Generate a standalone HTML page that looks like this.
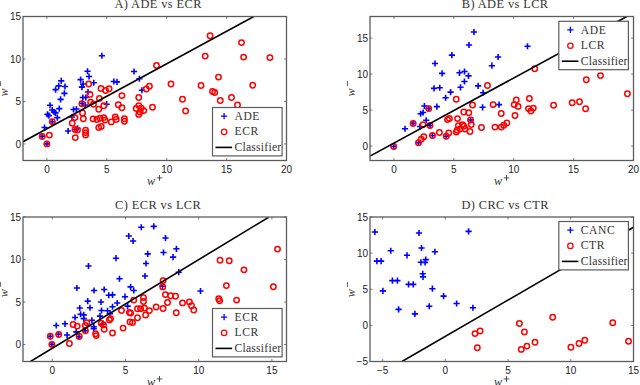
<!DOCTYPE html><html><head><meta charset="utf-8"><style>html,body{margin:0;padding:0;background:#fff;width:640px;height:385px;overflow:hidden}svg{display:block}</style></head><body>
<svg width="640" height="385" viewBox="0 0 640 385">
<rect width="640" height="385" fill="#fff"/>
<g>
<clipPath id="clA"><rect x="23" y="16.5" width="263.5" height="144.0"/></clipPath>
<g clip-path="url(#clA)">
<path d="M98.80 55.75H105.00M101.90 52.65V58.85" stroke="#0000ff" stroke-width="1.6" fill="none"/>
<path d="M84.40 71.25H90.60M87.50 68.15V74.35" stroke="#0000ff" stroke-width="1.6" fill="none"/>
<path d="M85.90 76.50H92.10M89.00 73.40V79.60" stroke="#0000ff" stroke-width="1.6" fill="none"/>
<path d="M77.50 79.60H83.70M80.60 76.50V82.70" stroke="#0000ff" stroke-width="1.6" fill="none"/>
<path d="M80.00 84.00H86.20M83.10 80.90V87.10" stroke="#0000ff" stroke-width="1.6" fill="none"/>
<path d="M78.80 87.10H85.00M81.90 84.00V90.20" stroke="#0000ff" stroke-width="1.6" fill="none"/>
<path d="M90.65 82.75H96.85M93.75 79.65V85.85" stroke="#0000ff" stroke-width="1.6" fill="none"/>
<path d="M58.15 80.90H64.35M61.25 77.80V84.00" stroke="#0000ff" stroke-width="1.6" fill="none"/>
<path d="M55.65 85.90H61.85M58.75 82.80V89.00" stroke="#0000ff" stroke-width="1.6" fill="none"/>
<path d="M61.90 86.50H68.10M65.00 83.40V89.60" stroke="#0000ff" stroke-width="1.6" fill="none"/>
<path d="M52.50 89.60H58.70M55.60 86.50V92.70" stroke="#0000ff" stroke-width="1.6" fill="none"/>
<path d="M61.30 93.40H67.50M64.40 90.30V96.50" stroke="#0000ff" stroke-width="1.6" fill="none"/>
<path d="M57.50 99.40H63.70M60.60 96.30V102.50" stroke="#0000ff" stroke-width="1.6" fill="none"/>
<path d="M46.90 105.25H53.10M50.00 102.15V108.35" stroke="#0000ff" stroke-width="1.6" fill="none"/>
<path d="M49.10 110.00H55.30M52.20 106.90V113.10" stroke="#0000ff" stroke-width="1.6" fill="none"/>
<path d="M50.90 112.00H57.10M54.00 108.90V115.10" stroke="#0000ff" stroke-width="1.6" fill="none"/>
<path d="M52.40 112.90H58.60M55.50 109.80V116.00" stroke="#0000ff" stroke-width="1.6" fill="none"/>
<path d="M56.20 108.60H62.40M59.30 105.50V111.70" stroke="#0000ff" stroke-width="1.6" fill="none"/>
<path d="M70.40 109.50H76.60M73.50 106.40V112.60" stroke="#0000ff" stroke-width="1.6" fill="none"/>
<path d="M73.30 109.00H79.50M76.40 105.90V112.10" stroke="#0000ff" stroke-width="1.6" fill="none"/>
<path d="M79.70 97.50H85.90M82.80 94.40V100.60" stroke="#0000ff" stroke-width="1.6" fill="none"/>
<path d="M82.70 97.50H88.90M85.80 94.40V100.60" stroke="#0000ff" stroke-width="1.6" fill="none"/>
<path d="M79.10 103.50H85.30M82.20 100.40V106.60" stroke="#0000ff" stroke-width="1.6" fill="none"/>
<path d="M110.70 81.50H116.90M113.80 78.40V84.60" stroke="#0000ff" stroke-width="1.6" fill="none"/>
<path d="M113.90 81.90H120.10M117.00 78.80V85.00" stroke="#0000ff" stroke-width="1.6" fill="none"/>
<path d="M103.50 104.20H109.70M106.60 101.10V107.30" stroke="#0000ff" stroke-width="1.6" fill="none"/>
<path d="M130.90 71.50H137.10M134.00 68.40V74.60" stroke="#0000ff" stroke-width="1.6" fill="none"/>
<path d="M136.30 78.75H142.50M139.40 75.65V81.85" stroke="#0000ff" stroke-width="1.6" fill="none"/>
<path d="M138.80 90.25H145.00M141.90 87.15V93.35" stroke="#0000ff" stroke-width="1.6" fill="none"/>
<path d="M44.40 114.30H50.60M47.50 111.20V117.40" stroke="#0000ff" stroke-width="1.6" fill="none"/>
<path d="M45.80 115.70H52.00M48.90 112.60V118.80" stroke="#0000ff" stroke-width="1.6" fill="none"/>
<path d="M54.20 117.60H60.40M57.30 114.50V120.70" stroke="#0000ff" stroke-width="1.6" fill="none"/>
<path d="M49.10 121.80H55.30M52.20 118.70V124.90" stroke="#0000ff" stroke-width="1.6" fill="none"/>
<path d="M41.40 127.50H47.60M44.50 124.40V130.60" stroke="#0000ff" stroke-width="1.6" fill="none"/>
<path d="M39.15 136.40H45.35M42.25 133.30V139.50" stroke="#0000ff" stroke-width="1.6" fill="none"/>
<path d="M43.80 143.90H50.00M46.90 140.80V147.00" stroke="#0000ff" stroke-width="1.6" fill="none"/>
<path d="M65.00 131.00H71.20M68.10 127.90V134.10" stroke="#0000ff" stroke-width="1.6" fill="none"/>
<path d="M68.90 117.00H75.10M72.00 113.90V120.10" stroke="#0000ff" stroke-width="1.6" fill="none"/>
<path d="M74.40 128.30H80.60M77.50 125.20V131.40" stroke="#0000ff" stroke-width="1.6" fill="none"/>
<path d="M84.90 92.00H91.10M88.00 88.90V95.10" stroke="#0000ff" stroke-width="1.6" fill="none"/>
<path d="M81.90 105.00H88.10M85.00 101.90V108.10" stroke="#0000ff" stroke-width="1.6" fill="none"/>
<path d="M72.90 129.50H79.10M76.00 126.40V132.60" stroke="#0000ff" stroke-width="1.6" fill="none"/>
<circle cx="210.10" cy="35.70" r="2.7" stroke="#ff0000" stroke-width="1.5" fill="none"/>
<circle cx="241.50" cy="42.60" r="2.7" stroke="#ff0000" stroke-width="1.5" fill="none"/>
<circle cx="205.20" cy="56.10" r="2.7" stroke="#ff0000" stroke-width="1.5" fill="none"/>
<circle cx="243.60" cy="57.10" r="2.7" stroke="#ff0000" stroke-width="1.5" fill="none"/>
<circle cx="269.90" cy="57.60" r="2.7" stroke="#ff0000" stroke-width="1.5" fill="none"/>
<circle cx="156.50" cy="65.50" r="2.7" stroke="#ff0000" stroke-width="1.5" fill="none"/>
<circle cx="171.00" cy="84.00" r="2.7" stroke="#ff0000" stroke-width="1.5" fill="none"/>
<circle cx="146.25" cy="89.00" r="2.7" stroke="#ff0000" stroke-width="1.5" fill="none"/>
<circle cx="149.40" cy="86.25" r="2.7" stroke="#ff0000" stroke-width="1.5" fill="none"/>
<circle cx="121.90" cy="95.60" r="2.7" stroke="#ff0000" stroke-width="1.5" fill="none"/>
<circle cx="138.75" cy="97.50" r="2.7" stroke="#ff0000" stroke-width="1.5" fill="none"/>
<circle cx="182.50" cy="99.25" r="2.7" stroke="#ff0000" stroke-width="1.5" fill="none"/>
<circle cx="121.90" cy="107.75" r="2.7" stroke="#ff0000" stroke-width="1.5" fill="none"/>
<circle cx="138.75" cy="105.60" r="2.7" stroke="#ff0000" stroke-width="1.5" fill="none"/>
<circle cx="136.25" cy="108.50" r="2.7" stroke="#ff0000" stroke-width="1.5" fill="none"/>
<circle cx="141.25" cy="108.10" r="2.7" stroke="#ff0000" stroke-width="1.5" fill="none"/>
<circle cx="143.75" cy="110.60" r="2.7" stroke="#ff0000" stroke-width="1.5" fill="none"/>
<circle cx="140.00" cy="111.90" r="2.7" stroke="#ff0000" stroke-width="1.5" fill="none"/>
<circle cx="138.75" cy="114.40" r="2.7" stroke="#ff0000" stroke-width="1.5" fill="none"/>
<circle cx="152.50" cy="107.25" r="2.7" stroke="#ff0000" stroke-width="1.5" fill="none"/>
<circle cx="185.60" cy="111.00" r="2.7" stroke="#ff0000" stroke-width="1.5" fill="none"/>
<circle cx="201.00" cy="85.50" r="2.7" stroke="#ff0000" stroke-width="1.5" fill="none"/>
<circle cx="218.50" cy="77.10" r="2.7" stroke="#ff0000" stroke-width="1.5" fill="none"/>
<circle cx="212.50" cy="91.50" r="2.7" stroke="#ff0000" stroke-width="1.5" fill="none"/>
<circle cx="214.75" cy="92.50" r="2.7" stroke="#ff0000" stroke-width="1.5" fill="none"/>
<circle cx="220.25" cy="100.50" r="2.7" stroke="#ff0000" stroke-width="1.5" fill="none"/>
<circle cx="231.50" cy="97.50" r="2.7" stroke="#ff0000" stroke-width="1.5" fill="none"/>
<circle cx="237.50" cy="105.00" r="2.7" stroke="#ff0000" stroke-width="1.5" fill="none"/>
<circle cx="252.75" cy="85.25" r="2.7" stroke="#ff0000" stroke-width="1.5" fill="none"/>
<circle cx="88.75" cy="84.00" r="2.7" stroke="#ff0000" stroke-width="1.5" fill="none"/>
<circle cx="90.00" cy="94.40" r="2.7" stroke="#ff0000" stroke-width="1.5" fill="none"/>
<circle cx="81.90" cy="103.75" r="2.7" stroke="#ff0000" stroke-width="1.5" fill="none"/>
<circle cx="90.60" cy="102.10" r="2.7" stroke="#ff0000" stroke-width="1.5" fill="none"/>
<circle cx="93.50" cy="104.30" r="2.7" stroke="#ff0000" stroke-width="1.5" fill="none"/>
<circle cx="101.00" cy="88.40" r="2.7" stroke="#ff0000" stroke-width="1.5" fill="none"/>
<circle cx="105.60" cy="90.50" r="2.7" stroke="#ff0000" stroke-width="1.5" fill="none"/>
<circle cx="109.10" cy="88.75" r="2.7" stroke="#ff0000" stroke-width="1.5" fill="none"/>
<circle cx="99.40" cy="98.40" r="2.7" stroke="#ff0000" stroke-width="1.5" fill="none"/>
<circle cx="103.75" cy="105.80" r="2.7" stroke="#ff0000" stroke-width="1.5" fill="none"/>
<circle cx="98.75" cy="109.25" r="2.7" stroke="#ff0000" stroke-width="1.5" fill="none"/>
<circle cx="118.30" cy="104.70" r="2.7" stroke="#ff0000" stroke-width="1.5" fill="none"/>
<circle cx="52.25" cy="121.75" r="2.7" stroke="#ff0000" stroke-width="1.5" fill="none"/>
<circle cx="42.25" cy="136.40" r="2.7" stroke="#ff0000" stroke-width="1.5" fill="none"/>
<circle cx="49.40" cy="135.10" r="2.7" stroke="#ff0000" stroke-width="1.5" fill="none"/>
<circle cx="46.90" cy="143.90" r="2.7" stroke="#ff0000" stroke-width="1.5" fill="none"/>
<circle cx="75.00" cy="117.60" r="2.7" stroke="#ff0000" stroke-width="1.5" fill="none"/>
<circle cx="72.25" cy="123.25" r="2.7" stroke="#ff0000" stroke-width="1.5" fill="none"/>
<circle cx="82.50" cy="113.00" r="2.7" stroke="#ff0000" stroke-width="1.5" fill="none"/>
<circle cx="83.30" cy="118.70" r="2.7" stroke="#ff0000" stroke-width="1.5" fill="none"/>
<circle cx="75.00" cy="129.50" r="2.7" stroke="#ff0000" stroke-width="1.5" fill="none"/>
<circle cx="77.50" cy="130.10" r="2.7" stroke="#ff0000" stroke-width="1.5" fill="none"/>
<circle cx="75.25" cy="137.60" r="2.7" stroke="#ff0000" stroke-width="1.5" fill="none"/>
<circle cx="85.60" cy="130.10" r="2.7" stroke="#ff0000" stroke-width="1.5" fill="none"/>
<circle cx="85.60" cy="132.60" r="2.7" stroke="#ff0000" stroke-width="1.5" fill="none"/>
<circle cx="85.60" cy="135.10" r="2.7" stroke="#ff0000" stroke-width="1.5" fill="none"/>
<circle cx="93.10" cy="118.90" r="2.7" stroke="#ff0000" stroke-width="1.5" fill="none"/>
<circle cx="96.90" cy="119.50" r="2.7" stroke="#ff0000" stroke-width="1.5" fill="none"/>
<circle cx="100.00" cy="118.25" r="2.7" stroke="#ff0000" stroke-width="1.5" fill="none"/>
<circle cx="103.75" cy="117.60" r="2.7" stroke="#ff0000" stroke-width="1.5" fill="none"/>
<circle cx="105.00" cy="120.10" r="2.7" stroke="#ff0000" stroke-width="1.5" fill="none"/>
<circle cx="98.75" cy="127.60" r="2.7" stroke="#ff0000" stroke-width="1.5" fill="none"/>
<circle cx="101.25" cy="126.40" r="2.7" stroke="#ff0000" stroke-width="1.5" fill="none"/>
<circle cx="111.25" cy="121.90" r="2.7" stroke="#ff0000" stroke-width="1.5" fill="none"/>
<circle cx="115.25" cy="116.90" r="2.7" stroke="#ff0000" stroke-width="1.5" fill="none"/>
<circle cx="116.25" cy="119.40" r="2.7" stroke="#ff0000" stroke-width="1.5" fill="none"/>
<circle cx="124.40" cy="118.75" r="2.7" stroke="#ff0000" stroke-width="1.5" fill="none"/>
<circle cx="124.40" cy="121.25" r="2.7" stroke="#ff0000" stroke-width="1.5" fill="none"/>
<line x1="23" y1="141.7" x2="253.8" y2="16.5" stroke="#000" stroke-width="1.6"/>
</g>
<rect x="23" y="16.5" width="263.5" height="144.0" fill="none" stroke="#5c5c5c" stroke-width="1.3"/>
<path d="M46.95 160.5V158.0M46.95 16.5V19.0" stroke="#5c5c5c" stroke-width="0.8"/>
<text x="46.95" y="172.9" text-anchor="middle" font-family="Liberation Sans" font-size="10" fill="#222">0</text>
<path d="M106.8 160.5V158.0M106.8 16.5V19.0" stroke="#5c5c5c" stroke-width="0.8"/>
<text x="106.8" y="172.9" text-anchor="middle" font-family="Liberation Sans" font-size="10" fill="#222">5</text>
<path d="M166.7 160.5V158.0M166.7 16.5V19.0" stroke="#5c5c5c" stroke-width="0.8"/>
<text x="166.7" y="172.9" text-anchor="middle" font-family="Liberation Sans" font-size="10" fill="#222">10</text>
<path d="M226.6 160.5V158.0M226.6 16.5V19.0" stroke="#5c5c5c" stroke-width="0.8"/>
<text x="226.6" y="172.9" text-anchor="middle" font-family="Liberation Sans" font-size="10" fill="#222">15</text>
<path d="M286.5 160.5V158.0M286.5 16.5V19.0" stroke="#5c5c5c" stroke-width="0.8"/>
<text x="286.5" y="172.9" text-anchor="middle" font-family="Liberation Sans" font-size="10" fill="#222">20</text>
<path d="M23 16.5H25.5M286.5 16.5H284.0" stroke="#5c5c5c" stroke-width="0.8"/>
<text x="21" y="20.1" text-anchor="end" font-family="Liberation Sans" font-size="10" fill="#222">15</text>
<path d="M23 59H25.5M286.5 59H284.0" stroke="#5c5c5c" stroke-width="0.8"/>
<text x="21" y="62.6" text-anchor="end" font-family="Liberation Sans" font-size="10" fill="#222">10</text>
<path d="M23 101.4H25.5M286.5 101.4H284.0" stroke="#5c5c5c" stroke-width="0.8"/>
<text x="21" y="105.0" text-anchor="end" font-family="Liberation Sans" font-size="10" fill="#222">5</text>
<path d="M23 143.9H25.5M286.5 143.9H284.0" stroke="#5c5c5c" stroke-width="0.8"/>
<text x="21" y="147.5" text-anchor="end" font-family="Liberation Sans" font-size="10" fill="#222">0</text>
<text x="158.15" y="8.1" text-anchor="middle" font-family="Liberation Serif" font-size="12.4" letter-spacing="0.4" fill="#333333">A) ADE vs ECR</text>
<text x="147.05" y="184.5" font-family="Liberation Serif" font-style="italic" font-size="12.3" fill="#333333">w</text>
<path d="M156.70 177.90H162.30M159.50 175.00V180.80" stroke="#333333" stroke-width="0.85" fill="none"/>
<g transform="translate(8,88.5) rotate(-90)"><text x="-8" y="0" font-family="Liberation Serif" font-style="italic" font-size="12" fill="#333333">w</text></g>
<rect x="-0.10000000000000142" y="81.2" width="1.1" height="4.8" fill="#6a6a6a"/>
<rect x="212.5" y="107.5" width="69.6" height="48.4" fill="#fff" stroke="#5c5c5c" stroke-width="1.2"/>
<path d="M221.00 116.10H227.20M224.10 113.00V119.20" stroke="#0000ff" stroke-width="1.25" fill="none"/>
<circle cx="224.10" cy="131.90" r="2.7" stroke="#ff0000" stroke-width="1.25" fill="none"/>
<line x1="215.5" y1="147.4" x2="232.1" y2="147.4" stroke="#000" stroke-width="1.6"/>
<text x="234.5" y="119.8" font-family="Liberation Serif" font-size="11.6" letter-spacing="0.55" fill="#333333">ADE</text>
<text x="234.5" y="135.4" font-family="Liberation Serif" font-size="11.6" letter-spacing="0.55" fill="#333333">ECR</text>
<text x="234.5" y="151.4" font-family="Liberation Serif" font-size="11.6" letter-spacing="0.25" fill="#333333">Classifier</text>
</g>
<g>
<clipPath id="clB"><rect x="370" y="16.5" width="263.5" height="144.0"/></clipPath>
<g clip-path="url(#clB)">
<path d="M470.90 32.00H477.10M474.00 28.90V35.10" stroke="#0000ff" stroke-width="1.6" fill="none"/>
<path d="M465.90 45.00H472.10M469.00 41.90V48.10" stroke="#0000ff" stroke-width="1.6" fill="none"/>
<path d="M524.40 46.25H530.60M527.50 43.15V49.35" stroke="#0000ff" stroke-width="1.6" fill="none"/>
<path d="M495.00 57.00H501.20M498.10 53.90V60.10" stroke="#0000ff" stroke-width="1.6" fill="none"/>
<path d="M488.80 65.70H495.00M491.90 62.60V68.80" stroke="#0000ff" stroke-width="1.6" fill="none"/>
<path d="M448.80 55.10H455.00M451.90 52.00V58.20" stroke="#0000ff" stroke-width="1.6" fill="none"/>
<path d="M431.90 63.50H438.10M435.00 60.40V66.60" stroke="#0000ff" stroke-width="1.6" fill="none"/>
<path d="M439.00 73.40H445.20M442.10 70.30V76.50" stroke="#0000ff" stroke-width="1.6" fill="none"/>
<path d="M456.40 72.80H462.60M459.50 69.70V75.90" stroke="#0000ff" stroke-width="1.6" fill="none"/>
<path d="M461.40 71.50H467.60M464.50 68.40V74.60" stroke="#0000ff" stroke-width="1.6" fill="none"/>
<path d="M465.40 75.90H471.60M468.50 72.80V79.00" stroke="#0000ff" stroke-width="1.6" fill="none"/>
<path d="M461.30 81.50H467.50M464.40 78.40V84.60" stroke="#0000ff" stroke-width="1.6" fill="none"/>
<path d="M457.40 87.30H463.60M460.50 84.20V90.40" stroke="#0000ff" stroke-width="1.6" fill="none"/>
<path d="M475.00 85.90H481.20M478.10 82.80V89.00" stroke="#0000ff" stroke-width="1.6" fill="none"/>
<path d="M480.00 92.75H486.20M483.10 89.65V95.85" stroke="#0000ff" stroke-width="1.6" fill="none"/>
<path d="M479.50 107.30H485.70M482.60 104.20V110.40" stroke="#0000ff" stroke-width="1.6" fill="none"/>
<path d="M495.90 104.60H502.10M499.00 101.50V107.70" stroke="#0000ff" stroke-width="1.6" fill="none"/>
<path d="M467.50 120.00H473.70M470.60 116.90V123.10" stroke="#0000ff" stroke-width="1.6" fill="none"/>
<path d="M430.90 88.40H437.10M434.00 85.30V91.50" stroke="#0000ff" stroke-width="1.6" fill="none"/>
<path d="M436.65 87.75H442.85M439.75 84.65V90.85" stroke="#0000ff" stroke-width="1.6" fill="none"/>
<path d="M447.50 92.10H453.70M450.60 89.00V95.20" stroke="#0000ff" stroke-width="1.6" fill="none"/>
<path d="M442.50 97.75H448.70M445.60 94.65V100.85" stroke="#0000ff" stroke-width="1.6" fill="none"/>
<path d="M421.30 106.00H427.50M424.40 102.90V109.10" stroke="#0000ff" stroke-width="1.6" fill="none"/>
<path d="M433.80 106.60H440.00M436.90 103.50V109.70" stroke="#0000ff" stroke-width="1.6" fill="none"/>
<path d="M425.65 108.60H431.85M428.75 105.50V111.70" stroke="#0000ff" stroke-width="1.6" fill="none"/>
<path d="M417.50 113.75H423.70M420.60 110.65V116.85" stroke="#0000ff" stroke-width="1.6" fill="none"/>
<path d="M420.00 112.50H426.20M423.10 109.40V115.60" stroke="#0000ff" stroke-width="1.6" fill="none"/>
<path d="M423.15 120.25H429.35M426.25 117.15V123.35" stroke="#0000ff" stroke-width="1.6" fill="none"/>
<path d="M410.00 123.40H416.20M413.10 120.30V126.50" stroke="#0000ff" stroke-width="1.6" fill="none"/>
<path d="M401.90 128.75H408.10M405.00 125.65V131.85" stroke="#0000ff" stroke-width="1.6" fill="none"/>
<path d="M416.90 126.50H423.10M420.00 123.40V129.60" stroke="#0000ff" stroke-width="1.6" fill="none"/>
<path d="M426.90 125.50H433.10M430.00 122.40V128.60" stroke="#0000ff" stroke-width="1.6" fill="none"/>
<path d="M429.40 135.50H435.60M432.50 132.40V138.60" stroke="#0000ff" stroke-width="1.6" fill="none"/>
<path d="M443.15 136.25H449.35M446.25 133.15V139.35" stroke="#0000ff" stroke-width="1.6" fill="none"/>
<path d="M415.40 142.75H421.60M418.50 139.65V145.85" stroke="#0000ff" stroke-width="1.6" fill="none"/>
<path d="M390.65 146.50H396.85M393.75 143.40V149.60" stroke="#0000ff" stroke-width="1.6" fill="none"/>
<circle cx="600.50" cy="75.60" r="2.7" stroke="#ff0000" stroke-width="1.5" fill="none"/>
<circle cx="586.30" cy="79.80" r="2.7" stroke="#ff0000" stroke-width="1.5" fill="none"/>
<circle cx="627.40" cy="93.80" r="2.7" stroke="#ff0000" stroke-width="1.5" fill="none"/>
<circle cx="553.60" cy="105.30" r="2.7" stroke="#ff0000" stroke-width="1.5" fill="none"/>
<circle cx="572.20" cy="102.70" r="2.7" stroke="#ff0000" stroke-width="1.5" fill="none"/>
<circle cx="579.50" cy="101.80" r="2.7" stroke="#ff0000" stroke-width="1.5" fill="none"/>
<circle cx="585.60" cy="108.80" r="2.7" stroke="#ff0000" stroke-width="1.5" fill="none"/>
<circle cx="534.75" cy="68.75" r="2.7" stroke="#ff0000" stroke-width="1.5" fill="none"/>
<circle cx="487.50" cy="85.50" r="2.7" stroke="#ff0000" stroke-width="1.5" fill="none"/>
<circle cx="472.50" cy="105.00" r="2.7" stroke="#ff0000" stroke-width="1.5" fill="none"/>
<circle cx="493.10" cy="104.60" r="2.7" stroke="#ff0000" stroke-width="1.5" fill="none"/>
<circle cx="516.25" cy="100.00" r="2.7" stroke="#ff0000" stroke-width="1.5" fill="none"/>
<circle cx="514.20" cy="104.60" r="2.7" stroke="#ff0000" stroke-width="1.5" fill="none"/>
<circle cx="518.10" cy="106.40" r="2.7" stroke="#ff0000" stroke-width="1.5" fill="none"/>
<circle cx="529.40" cy="98.50" r="2.7" stroke="#ff0000" stroke-width="1.5" fill="none"/>
<circle cx="528.50" cy="108.60" r="2.7" stroke="#ff0000" stroke-width="1.5" fill="none"/>
<circle cx="533.30" cy="108.10" r="2.7" stroke="#ff0000" stroke-width="1.5" fill="none"/>
<circle cx="530.90" cy="111.00" r="2.7" stroke="#ff0000" stroke-width="1.5" fill="none"/>
<circle cx="463.75" cy="112.00" r="2.7" stroke="#ff0000" stroke-width="1.5" fill="none"/>
<circle cx="468.75" cy="112.80" r="2.7" stroke="#ff0000" stroke-width="1.5" fill="none"/>
<circle cx="501.25" cy="113.50" r="2.7" stroke="#ff0000" stroke-width="1.5" fill="none"/>
<circle cx="456.25" cy="99.25" r="2.7" stroke="#ff0000" stroke-width="1.5" fill="none"/>
<circle cx="428.75" cy="108.60" r="2.7" stroke="#ff0000" stroke-width="1.5" fill="none"/>
<circle cx="413.10" cy="123.40" r="2.7" stroke="#ff0000" stroke-width="1.5" fill="none"/>
<circle cx="423.10" cy="124.60" r="2.7" stroke="#ff0000" stroke-width="1.5" fill="none"/>
<circle cx="430.00" cy="125.50" r="2.7" stroke="#ff0000" stroke-width="1.5" fill="none"/>
<circle cx="447.50" cy="119.60" r="2.7" stroke="#ff0000" stroke-width="1.5" fill="none"/>
<circle cx="449.40" cy="118.40" r="2.7" stroke="#ff0000" stroke-width="1.5" fill="none"/>
<circle cx="457.50" cy="118.60" r="2.7" stroke="#ff0000" stroke-width="1.5" fill="none"/>
<circle cx="458.40" cy="125.60" r="2.7" stroke="#ff0000" stroke-width="1.5" fill="none"/>
<circle cx="457.20" cy="130.25" r="2.7" stroke="#ff0000" stroke-width="1.5" fill="none"/>
<circle cx="439.40" cy="132.50" r="2.7" stroke="#ff0000" stroke-width="1.5" fill="none"/>
<circle cx="448.75" cy="133.00" r="2.7" stroke="#ff0000" stroke-width="1.5" fill="none"/>
<circle cx="432.50" cy="135.50" r="2.7" stroke="#ff0000" stroke-width="1.5" fill="none"/>
<circle cx="446.25" cy="136.25" r="2.7" stroke="#ff0000" stroke-width="1.5" fill="none"/>
<circle cx="423.75" cy="136.75" r="2.7" stroke="#ff0000" stroke-width="1.5" fill="none"/>
<circle cx="421.25" cy="139.25" r="2.7" stroke="#ff0000" stroke-width="1.5" fill="none"/>
<circle cx="418.50" cy="142.75" r="2.7" stroke="#ff0000" stroke-width="1.5" fill="none"/>
<circle cx="393.75" cy="146.50" r="2.7" stroke="#ff0000" stroke-width="1.5" fill="none"/>
<circle cx="515.00" cy="115.50" r="2.7" stroke="#ff0000" stroke-width="1.5" fill="none"/>
<circle cx="470.60" cy="120.00" r="2.7" stroke="#ff0000" stroke-width="1.5" fill="none"/>
<circle cx="471.25" cy="124.60" r="2.7" stroke="#ff0000" stroke-width="1.5" fill="none"/>
<circle cx="462.50" cy="124.60" r="2.7" stroke="#ff0000" stroke-width="1.5" fill="none"/>
<circle cx="463.75" cy="126.25" r="2.7" stroke="#ff0000" stroke-width="1.5" fill="none"/>
<circle cx="465.00" cy="129.00" r="2.7" stroke="#ff0000" stroke-width="1.5" fill="none"/>
<circle cx="456.25" cy="132.10" r="2.7" stroke="#ff0000" stroke-width="1.5" fill="none"/>
<circle cx="460.00" cy="129.00" r="2.7" stroke="#ff0000" stroke-width="1.5" fill="none"/>
<circle cx="470.00" cy="131.50" r="2.7" stroke="#ff0000" stroke-width="1.5" fill="none"/>
<circle cx="481.50" cy="127.50" r="2.7" stroke="#ff0000" stroke-width="1.5" fill="none"/>
<circle cx="495.00" cy="127.10" r="2.7" stroke="#ff0000" stroke-width="1.5" fill="none"/>
<circle cx="501.25" cy="127.10" r="2.7" stroke="#ff0000" stroke-width="1.5" fill="none"/>
<circle cx="503.75" cy="125.25" r="2.7" stroke="#ff0000" stroke-width="1.5" fill="none"/>
<circle cx="506.90" cy="123.00" r="2.7" stroke="#ff0000" stroke-width="1.5" fill="none"/>
<line x1="370" y1="156.1" x2="626.8" y2="16.5" stroke="#000" stroke-width="1.6"/>
</g>
<rect x="370" y="16.5" width="263.5" height="144.0" fill="none" stroke="#5c5c5c" stroke-width="1.3"/>
<path d="M393.95 160.5V158.0M393.95 16.5V19.0" stroke="#5c5c5c" stroke-width="0.8"/>
<text x="393.95" y="172.9" text-anchor="middle" font-family="Liberation Sans" font-size="10" fill="#222">0</text>
<path d="M453.8 160.5V158.0M453.8 16.5V19.0" stroke="#5c5c5c" stroke-width="0.8"/>
<text x="453.8" y="172.9" text-anchor="middle" font-family="Liberation Sans" font-size="10" fill="#222">5</text>
<path d="M513.7 160.5V158.0M513.7 16.5V19.0" stroke="#5c5c5c" stroke-width="0.8"/>
<text x="513.7" y="172.9" text-anchor="middle" font-family="Liberation Sans" font-size="10" fill="#222">10</text>
<path d="M573.6 160.5V158.0M573.6 16.5V19.0" stroke="#5c5c5c" stroke-width="0.8"/>
<text x="573.6" y="172.9" text-anchor="middle" font-family="Liberation Sans" font-size="10" fill="#222">15</text>
<path d="M633.5 160.5V158.0M633.5 16.5V19.0" stroke="#5c5c5c" stroke-width="0.8"/>
<text x="633.5" y="172.9" text-anchor="middle" font-family="Liberation Sans" font-size="10" fill="#222">20</text>
<path d="M370 38.1H372.5M633.5 38.1H631.0" stroke="#5c5c5c" stroke-width="0.8"/>
<text x="368" y="41.7" text-anchor="end" font-family="Liberation Sans" font-size="10" fill="#222">15</text>
<path d="M370 74.1H372.5M633.5 74.1H631.0" stroke="#5c5c5c" stroke-width="0.8"/>
<text x="368" y="77.69999999999999" text-anchor="end" font-family="Liberation Sans" font-size="10" fill="#222">10</text>
<path d="M370 110.1H372.5M633.5 110.1H631.0" stroke="#5c5c5c" stroke-width="0.8"/>
<text x="368" y="113.69999999999999" text-anchor="end" font-family="Liberation Sans" font-size="10" fill="#222">5</text>
<path d="M370 146.1H372.5M633.5 146.1H631.0" stroke="#5c5c5c" stroke-width="0.8"/>
<text x="368" y="149.7" text-anchor="end" font-family="Liberation Sans" font-size="10" fill="#222">0</text>
<text x="505.15" y="8.1" text-anchor="middle" font-family="Liberation Serif" font-size="12.4" letter-spacing="0.4" fill="#333333">B) ADE vs LCR</text>
<text x="494.05" y="184.5" font-family="Liberation Serif" font-style="italic" font-size="12.3" fill="#333333">w</text>
<path d="M503.70 177.90H509.30M506.50 175.00V180.80" stroke="#333333" stroke-width="0.85" fill="none"/>
<g transform="translate(355,88.5) rotate(-90)"><text x="-8" y="0" font-family="Liberation Serif" font-style="italic" font-size="12" fill="#333333">w</text></g>
<rect x="346.9" y="81.2" width="1.1" height="4.8" fill="#6a6a6a"/>
<rect x="558.8" y="21.3" width="69.6" height="48.4" fill="#fff" stroke="#5c5c5c" stroke-width="1.2"/>
<path d="M567.30 29.90H573.50M570.40 26.80V33.00" stroke="#0000ff" stroke-width="1.25" fill="none"/>
<circle cx="570.40" cy="45.70" r="2.7" stroke="#ff0000" stroke-width="1.25" fill="none"/>
<line x1="561.8" y1="61.2" x2="578.4" y2="61.2" stroke="#000" stroke-width="1.6"/>
<text x="580.8" y="33.6" font-family="Liberation Serif" font-size="11.6" letter-spacing="0.55" fill="#333333">ADE</text>
<text x="580.8" y="49.2" font-family="Liberation Serif" font-size="11.6" letter-spacing="0.55" fill="#333333">LCR</text>
<text x="580.8" y="65.2" font-family="Liberation Serif" font-size="11.6" letter-spacing="0.25" fill="#333333">Classifier</text>
</g>
<g>
<clipPath id="clC"><rect x="23" y="217" width="263.5" height="144.5"/></clipPath>
<g clip-path="url(#clC)">
<path d="M138.15 227.25H144.35M141.25 224.15V230.35" stroke="#0000ff" stroke-width="1.6" fill="none"/>
<path d="M150.65 226.40H156.85M153.75 223.30V229.50" stroke="#0000ff" stroke-width="1.6" fill="none"/>
<path d="M125.65 236.00H131.85M128.75 232.90V239.10" stroke="#0000ff" stroke-width="1.6" fill="none"/>
<path d="M130.00 241.00H136.20M133.10 237.90V244.10" stroke="#0000ff" stroke-width="1.6" fill="none"/>
<path d="M162.40 238.00H168.60M165.50 234.90V241.10" stroke="#0000ff" stroke-width="1.6" fill="none"/>
<path d="M173.30 248.80H179.50M176.40 245.70V251.90" stroke="#0000ff" stroke-width="1.6" fill="none"/>
<path d="M160.40 252.50H166.60M163.50 249.40V255.60" stroke="#0000ff" stroke-width="1.6" fill="none"/>
<path d="M170.00 257.10H176.20M173.10 254.00V260.20" stroke="#0000ff" stroke-width="1.6" fill="none"/>
<path d="M144.65 253.90H150.85M147.75 250.80V257.00" stroke="#0000ff" stroke-width="1.6" fill="none"/>
<path d="M112.90 258.20H119.10M116.00 255.10V261.30" stroke="#0000ff" stroke-width="1.6" fill="none"/>
<path d="M142.90 263.50H149.10M146.00 260.40V266.60" stroke="#0000ff" stroke-width="1.6" fill="none"/>
<path d="M85.40 266.00H91.60M88.50 262.90V269.10" stroke="#0000ff" stroke-width="1.6" fill="none"/>
<path d="M116.40 278.75H122.60M119.50 275.65V281.85" stroke="#0000ff" stroke-width="1.6" fill="none"/>
<path d="M141.90 276.00H148.10M145.00 272.90V279.10" stroke="#0000ff" stroke-width="1.6" fill="none"/>
<path d="M175.65 272.20H181.85M178.75 269.10V275.30" stroke="#0000ff" stroke-width="1.6" fill="none"/>
<path d="M127.50 286.90H133.70M130.60 283.80V290.00" stroke="#0000ff" stroke-width="1.6" fill="none"/>
<path d="M130.65 290.50H136.85M133.75 287.40V293.60" stroke="#0000ff" stroke-width="1.6" fill="none"/>
<path d="M121.90 296.70H128.10M125.00 293.60V299.80" stroke="#0000ff" stroke-width="1.6" fill="none"/>
<path d="M124.50 306.10H130.70M127.60 303.00V309.20" stroke="#0000ff" stroke-width="1.6" fill="none"/>
<path d="M159.40 286.25H165.60M162.50 283.15V289.35" stroke="#0000ff" stroke-width="1.6" fill="none"/>
<path d="M197.40 291.00H203.60M200.50 287.90V294.10" stroke="#0000ff" stroke-width="1.6" fill="none"/>
<path d="M73.80 288.00H80.00M76.90 284.90V291.10" stroke="#0000ff" stroke-width="1.6" fill="none"/>
<path d="M101.10 289.50H107.30M104.20 286.40V292.60" stroke="#0000ff" stroke-width="1.6" fill="none"/>
<path d="M90.90 290.50H97.10M94.00 287.40V293.60" stroke="#0000ff" stroke-width="1.6" fill="none"/>
<path d="M105.65 295.25H111.85M108.75 292.15V298.35" stroke="#0000ff" stroke-width="1.6" fill="none"/>
<path d="M109.40 294.90H115.60M112.50 291.80V298.00" stroke="#0000ff" stroke-width="1.6" fill="none"/>
<path d="M84.65 301.10H90.85M87.75 298.00V304.20" stroke="#0000ff" stroke-width="1.6" fill="none"/>
<path d="M97.90 302.00H104.10M101.00 298.90V305.10" stroke="#0000ff" stroke-width="1.6" fill="none"/>
<path d="M114.15 303.00H120.35M117.25 299.90V306.10" stroke="#0000ff" stroke-width="1.6" fill="none"/>
<path d="M76.65 308.00H82.85M79.75 304.90V311.10" stroke="#0000ff" stroke-width="1.6" fill="none"/>
<path d="M86.90 307.75H93.10M90.00 304.65V310.85" stroke="#0000ff" stroke-width="1.6" fill="none"/>
<path d="M98.40 310.50H104.60M101.50 307.40V313.60" stroke="#0000ff" stroke-width="1.6" fill="none"/>
<path d="M104.40 310.75H110.60M107.50 307.65V313.85" stroke="#0000ff" stroke-width="1.6" fill="none"/>
<path d="M106.90 313.60H113.10M110.00 310.50V316.70" stroke="#0000ff" stroke-width="1.6" fill="none"/>
<path d="M109.40 306.75H115.60M112.50 303.65V309.85" stroke="#0000ff" stroke-width="1.6" fill="none"/>
<path d="M77.50 314.25H83.70M80.60 311.15V317.35" stroke="#0000ff" stroke-width="1.6" fill="none"/>
<path d="M80.65 314.90H86.85M83.75 311.80V318.00" stroke="#0000ff" stroke-width="1.6" fill="none"/>
<path d="M71.90 317.50H78.10M75.00 314.40V320.60" stroke="#0000ff" stroke-width="1.6" fill="none"/>
<path d="M80.65 318.60H86.85M83.75 315.50V321.70" stroke="#0000ff" stroke-width="1.6" fill="none"/>
<path d="M96.90 316.10H103.10M100.00 313.00V319.20" stroke="#0000ff" stroke-width="1.6" fill="none"/>
<path d="M88.80 320.25H95.00M91.90 317.15V323.35" stroke="#0000ff" stroke-width="1.6" fill="none"/>
<path d="M53.15 325.50H59.35M56.25 322.40V328.60" stroke="#0000ff" stroke-width="1.6" fill="none"/>
<path d="M61.90 323.80H68.10M65.00 320.70V326.90" stroke="#0000ff" stroke-width="1.6" fill="none"/>
<path d="M90.65 326.80H96.85M93.75 323.70V329.90" stroke="#0000ff" stroke-width="1.6" fill="none"/>
<path d="M90.65 328.60H96.85M93.75 325.50V331.70" stroke="#0000ff" stroke-width="1.6" fill="none"/>
<path d="M99.40 324.30H105.60M102.50 321.20V327.40" stroke="#0000ff" stroke-width="1.6" fill="none"/>
<path d="M82.15 330.70H88.35M85.25 327.60V333.80" stroke="#0000ff" stroke-width="1.6" fill="none"/>
<path d="M55.40 334.20H61.60M58.50 331.10V337.30" stroke="#0000ff" stroke-width="1.6" fill="none"/>
<path d="M64.00 335.00H70.20M67.10 331.90V338.10" stroke="#0000ff" stroke-width="1.6" fill="none"/>
<path d="M47.15 336.25H53.35M50.25 333.15V339.35" stroke="#0000ff" stroke-width="1.6" fill="none"/>
<path d="M48.80 344.40H55.00M51.90 341.30V347.50" stroke="#0000ff" stroke-width="1.6" fill="none"/>
<path d="M73.15 331.90H79.35M76.25 328.80V335.00" stroke="#0000ff" stroke-width="1.6" fill="none"/>
<path d="M75.90 336.90H82.10M79.00 333.80V340.00" stroke="#0000ff" stroke-width="1.6" fill="none"/>
<circle cx="277.50" cy="249.10" r="2.7" stroke="#ff0000" stroke-width="1.5" fill="none"/>
<circle cx="220.05" cy="260.30" r="2.7" stroke="#ff0000" stroke-width="1.5" fill="none"/>
<circle cx="229.20" cy="260.80" r="2.7" stroke="#ff0000" stroke-width="1.5" fill="none"/>
<circle cx="243.95" cy="269.85" r="2.7" stroke="#ff0000" stroke-width="1.5" fill="none"/>
<circle cx="226.40" cy="285.60" r="2.7" stroke="#ff0000" stroke-width="1.5" fill="none"/>
<circle cx="273.40" cy="286.70" r="2.7" stroke="#ff0000" stroke-width="1.5" fill="none"/>
<circle cx="218.70" cy="298.70" r="2.7" stroke="#ff0000" stroke-width="1.5" fill="none"/>
<circle cx="219.70" cy="300.80" r="2.7" stroke="#ff0000" stroke-width="1.5" fill="none"/>
<circle cx="236.60" cy="300.10" r="2.7" stroke="#ff0000" stroke-width="1.5" fill="none"/>
<circle cx="163.10" cy="280.60" r="2.7" stroke="#ff0000" stroke-width="1.5" fill="none"/>
<circle cx="162.75" cy="286.90" r="2.7" stroke="#ff0000" stroke-width="1.5" fill="none"/>
<circle cx="165.40" cy="294.60" r="2.7" stroke="#ff0000" stroke-width="1.5" fill="none"/>
<circle cx="170.60" cy="295.80" r="2.7" stroke="#ff0000" stroke-width="1.5" fill="none"/>
<circle cx="175.60" cy="296.25" r="2.7" stroke="#ff0000" stroke-width="1.5" fill="none"/>
<circle cx="143.50" cy="297.60" r="2.7" stroke="#ff0000" stroke-width="1.5" fill="none"/>
<circle cx="143.50" cy="301.50" r="2.7" stroke="#ff0000" stroke-width="1.5" fill="none"/>
<circle cx="133.75" cy="300.10" r="2.7" stroke="#ff0000" stroke-width="1.5" fill="none"/>
<circle cx="167.50" cy="302.50" r="2.7" stroke="#ff0000" stroke-width="1.5" fill="none"/>
<circle cx="182.50" cy="302.90" r="2.7" stroke="#ff0000" stroke-width="1.5" fill="none"/>
<circle cx="189.40" cy="301.90" r="2.7" stroke="#ff0000" stroke-width="1.5" fill="none"/>
<circle cx="191.50" cy="305.80" r="2.7" stroke="#ff0000" stroke-width="1.5" fill="none"/>
<circle cx="193.75" cy="310.00" r="2.7" stroke="#ff0000" stroke-width="1.5" fill="none"/>
<circle cx="137.50" cy="308.75" r="2.7" stroke="#ff0000" stroke-width="1.5" fill="none"/>
<circle cx="140.60" cy="308.75" r="2.7" stroke="#ff0000" stroke-width="1.5" fill="none"/>
<circle cx="144.40" cy="308.10" r="2.7" stroke="#ff0000" stroke-width="1.5" fill="none"/>
<circle cx="149.40" cy="310.60" r="2.7" stroke="#ff0000" stroke-width="1.5" fill="none"/>
<circle cx="156.10" cy="307.00" r="2.7" stroke="#ff0000" stroke-width="1.5" fill="none"/>
<circle cx="163.10" cy="308.50" r="2.7" stroke="#ff0000" stroke-width="1.5" fill="none"/>
<circle cx="176.25" cy="312.75" r="2.7" stroke="#ff0000" stroke-width="1.5" fill="none"/>
<circle cx="121.50" cy="310.50" r="2.7" stroke="#ff0000" stroke-width="1.5" fill="none"/>
<circle cx="129.40" cy="312.50" r="2.7" stroke="#ff0000" stroke-width="1.5" fill="none"/>
<circle cx="130.60" cy="313.10" r="2.7" stroke="#ff0000" stroke-width="1.5" fill="none"/>
<circle cx="145.60" cy="315.00" r="2.7" stroke="#ff0000" stroke-width="1.5" fill="none"/>
<circle cx="137.50" cy="317.75" r="2.7" stroke="#ff0000" stroke-width="1.5" fill="none"/>
<circle cx="130.00" cy="321.90" r="2.7" stroke="#ff0000" stroke-width="1.5" fill="none"/>
<circle cx="132.50" cy="322.50" r="2.7" stroke="#ff0000" stroke-width="1.5" fill="none"/>
<circle cx="123.10" cy="328.10" r="2.7" stroke="#ff0000" stroke-width="1.5" fill="none"/>
<circle cx="73.10" cy="324.50" r="2.7" stroke="#ff0000" stroke-width="1.5" fill="none"/>
<circle cx="77.25" cy="326.10" r="2.7" stroke="#ff0000" stroke-width="1.5" fill="none"/>
<circle cx="86.90" cy="322.80" r="2.7" stroke="#ff0000" stroke-width="1.5" fill="none"/>
<circle cx="85.30" cy="325.50" r="2.7" stroke="#ff0000" stroke-width="1.5" fill="none"/>
<circle cx="85.40" cy="330.70" r="2.7" stroke="#ff0000" stroke-width="1.5" fill="none"/>
<circle cx="101.25" cy="323.20" r="2.7" stroke="#ff0000" stroke-width="1.5" fill="none"/>
<circle cx="103.50" cy="324.90" r="2.7" stroke="#ff0000" stroke-width="1.5" fill="none"/>
<circle cx="104.20" cy="329.30" r="2.7" stroke="#ff0000" stroke-width="1.5" fill="none"/>
<circle cx="109.40" cy="319.90" r="2.7" stroke="#ff0000" stroke-width="1.5" fill="none"/>
<circle cx="110.60" cy="318.60" r="2.7" stroke="#ff0000" stroke-width="1.5" fill="none"/>
<circle cx="95.60" cy="333.70" r="2.7" stroke="#ff0000" stroke-width="1.5" fill="none"/>
<circle cx="96.25" cy="335.60" r="2.7" stroke="#ff0000" stroke-width="1.5" fill="none"/>
<circle cx="112.50" cy="333.00" r="2.7" stroke="#ff0000" stroke-width="1.5" fill="none"/>
<circle cx="58.75" cy="334.50" r="2.7" stroke="#ff0000" stroke-width="1.5" fill="none"/>
<circle cx="50.25" cy="336.25" r="2.7" stroke="#ff0000" stroke-width="1.5" fill="none"/>
<circle cx="79.20" cy="336.50" r="2.7" stroke="#ff0000" stroke-width="1.5" fill="none"/>
<circle cx="51.90" cy="344.40" r="2.7" stroke="#ff0000" stroke-width="1.5" fill="none"/>
<circle cx="69.40" cy="343.50" r="2.7" stroke="#ff0000" stroke-width="1.5" fill="none"/>
<line x1="30.5" y1="361.5" x2="268.6" y2="217.3" stroke="#000" stroke-width="1.6"/>
</g>
<rect x="23" y="217" width="263.5" height="144.5" fill="none" stroke="#5c5c5c" stroke-width="1.3"/>
<path d="M52.3 361.5V359.0M52.3 217V219.5" stroke="#5c5c5c" stroke-width="0.8"/>
<text x="52.3" y="373.9" text-anchor="middle" font-family="Liberation Sans" font-size="10" fill="#222">0</text>
<path d="M125.5 361.5V359.0M125.5 217V219.5" stroke="#5c5c5c" stroke-width="0.8"/>
<text x="125.5" y="373.9" text-anchor="middle" font-family="Liberation Sans" font-size="10" fill="#222">5</text>
<path d="M198.7 361.5V359.0M198.7 217V219.5" stroke="#5c5c5c" stroke-width="0.8"/>
<text x="198.7" y="373.9" text-anchor="middle" font-family="Liberation Sans" font-size="10" fill="#222">10</text>
<path d="M271.9 361.5V359.0M271.9 217V219.5" stroke="#5c5c5c" stroke-width="0.8"/>
<text x="271.9" y="373.9" text-anchor="middle" font-family="Liberation Sans" font-size="10" fill="#222">15</text>
<path d="M23 217H25.5M286.5 217H284.0" stroke="#5c5c5c" stroke-width="0.8"/>
<text x="21" y="220.6" text-anchor="end" font-family="Liberation Sans" font-size="10" fill="#222">15</text>
<path d="M23 259.5H25.5M286.5 259.5H284.0" stroke="#5c5c5c" stroke-width="0.8"/>
<text x="21" y="263.1" text-anchor="end" font-family="Liberation Sans" font-size="10" fill="#222">10</text>
<path d="M23 302H25.5M286.5 302H284.0" stroke="#5c5c5c" stroke-width="0.8"/>
<text x="21" y="305.6" text-anchor="end" font-family="Liberation Sans" font-size="10" fill="#222">5</text>
<path d="M23 344.5H25.5M286.5 344.5H284.0" stroke="#5c5c5c" stroke-width="0.8"/>
<text x="21" y="348.1" text-anchor="end" font-family="Liberation Sans" font-size="10" fill="#222">0</text>
<text x="158.15" y="208.6" text-anchor="middle" font-family="Liberation Serif" font-size="12.4" letter-spacing="0.4" fill="#333333">C) ECR vs LCR</text>
<text x="147.05" y="385.5" font-family="Liberation Serif" font-style="italic" font-size="12.3" fill="#333333">w</text>
<path d="M156.70 378.90H162.30M159.50 376.00V381.80" stroke="#333333" stroke-width="0.85" fill="none"/>
<g transform="translate(8,289.25) rotate(-90)"><text x="-8" y="0" font-family="Liberation Serif" font-style="italic" font-size="12" fill="#333333">w</text></g>
<rect x="-0.10000000000000142" y="281.95" width="1.1" height="4.8" fill="#6a6a6a"/>
<rect x="212.5" y="308.5" width="69.6" height="48.4" fill="#fff" stroke="#5c5c5c" stroke-width="1.2"/>
<path d="M221.00 317.10H227.20M224.10 314.00V320.20" stroke="#0000ff" stroke-width="1.25" fill="none"/>
<circle cx="224.10" cy="332.90" r="2.7" stroke="#ff0000" stroke-width="1.25" fill="none"/>
<line x1="215.5" y1="348.4" x2="232.1" y2="348.4" stroke="#000" stroke-width="1.6"/>
<text x="234.5" y="320.8" font-family="Liberation Serif" font-size="11.6" letter-spacing="0.55" fill="#333333">ECR</text>
<text x="234.5" y="336.4" font-family="Liberation Serif" font-size="11.6" letter-spacing="0.55" fill="#333333">LCR</text>
<text x="234.5" y="352.4" font-family="Liberation Serif" font-size="11.6" letter-spacing="0.25" fill="#333333">Classifier</text>
</g>
<g>
<clipPath id="clD"><rect x="370" y="217" width="263.5" height="144.5"/></clipPath>
<g clip-path="url(#clD)">
<path d="M371.80 232.00H378.00M374.90 228.90V235.10" stroke="#0000ff" stroke-width="1.6" fill="none"/>
<path d="M415.90 233.00H422.10M419.00 229.90V236.10" stroke="#0000ff" stroke-width="1.6" fill="none"/>
<path d="M387.65 250.75H393.85M390.75 247.65V253.85" stroke="#0000ff" stroke-width="1.6" fill="none"/>
<path d="M418.40 248.00H424.60M421.50 244.90V251.10" stroke="#0000ff" stroke-width="1.6" fill="none"/>
<path d="M431.80 251.75H438.00M434.90 248.65V254.85" stroke="#0000ff" stroke-width="1.6" fill="none"/>
<path d="M403.90 255.30H410.10M407.00 252.20V258.40" stroke="#0000ff" stroke-width="1.6" fill="none"/>
<path d="M373.80 261.10H380.00M376.90 258.00V264.20" stroke="#0000ff" stroke-width="1.6" fill="none"/>
<path d="M378.00 261.10H384.20M381.10 258.00V264.20" stroke="#0000ff" stroke-width="1.6" fill="none"/>
<path d="M417.80 262.30H424.00M420.90 259.20V265.40" stroke="#0000ff" stroke-width="1.6" fill="none"/>
<path d="M422.65 259.60H428.85M425.75 256.50V262.70" stroke="#0000ff" stroke-width="1.6" fill="none"/>
<path d="M422.00 262.50H428.20M425.10 259.40V265.60" stroke="#0000ff" stroke-width="1.6" fill="none"/>
<path d="M419.65 273.75H425.85M422.75 270.65V276.85" stroke="#0000ff" stroke-width="1.6" fill="none"/>
<path d="M419.90 276.90H426.10M423.00 273.80V280.00" stroke="#0000ff" stroke-width="1.6" fill="none"/>
<path d="M389.30 280.60H395.50M392.40 277.50V283.70" stroke="#0000ff" stroke-width="1.6" fill="none"/>
<path d="M394.30 280.60H400.50M397.40 277.50V283.70" stroke="#0000ff" stroke-width="1.6" fill="none"/>
<path d="M405.50 284.40H411.70M408.60 281.30V287.50" stroke="#0000ff" stroke-width="1.6" fill="none"/>
<path d="M410.15 284.40H416.35M413.25 281.30V287.50" stroke="#0000ff" stroke-width="1.6" fill="none"/>
<path d="M379.80 290.90H386.00M382.90 287.80V294.00" stroke="#0000ff" stroke-width="1.6" fill="none"/>
<path d="M429.30 288.70H435.50M432.40 285.60V291.80" stroke="#0000ff" stroke-width="1.6" fill="none"/>
<path d="M440.50 296.10H446.70M443.60 293.00V299.20" stroke="#0000ff" stroke-width="1.6" fill="none"/>
<path d="M395.50 309.40H401.70M398.60 306.30V312.50" stroke="#0000ff" stroke-width="1.6" fill="none"/>
<path d="M411.80 313.90H418.00M414.90 310.80V317.00" stroke="#0000ff" stroke-width="1.6" fill="none"/>
<path d="M426.15 306.25H432.35M429.25 303.15V309.35" stroke="#0000ff" stroke-width="1.6" fill="none"/>
<path d="M465.50 231.40H471.70M468.60 228.30V234.50" stroke="#0000ff" stroke-width="1.6" fill="none"/>
<path d="M453.50 303.50H459.70M456.60 300.40V306.60" stroke="#0000ff" stroke-width="1.6" fill="none"/>
<path d="M469.80 307.75H476.00M472.90 304.65V310.85" stroke="#0000ff" stroke-width="1.6" fill="none"/>
<circle cx="475.00" cy="333.60" r="2.7" stroke="#ff0000" stroke-width="1.5" fill="none"/>
<circle cx="480.10" cy="331.00" r="2.7" stroke="#ff0000" stroke-width="1.5" fill="none"/>
<circle cx="477.30" cy="347.80" r="2.7" stroke="#ff0000" stroke-width="1.5" fill="none"/>
<circle cx="519.40" cy="323.50" r="2.7" stroke="#ff0000" stroke-width="1.5" fill="none"/>
<circle cx="524.40" cy="331.90" r="2.7" stroke="#ff0000" stroke-width="1.5" fill="none"/>
<circle cx="535.00" cy="342.25" r="2.7" stroke="#ff0000" stroke-width="1.5" fill="none"/>
<circle cx="521.25" cy="349.40" r="2.7" stroke="#ff0000" stroke-width="1.5" fill="none"/>
<circle cx="526.90" cy="346.10" r="2.7" stroke="#ff0000" stroke-width="1.5" fill="none"/>
<circle cx="552.70" cy="317.30" r="2.7" stroke="#ff0000" stroke-width="1.5" fill="none"/>
<circle cx="612.75" cy="322.70" r="2.7" stroke="#ff0000" stroke-width="1.5" fill="none"/>
<circle cx="570.90" cy="347.20" r="2.7" stroke="#ff0000" stroke-width="1.5" fill="none"/>
<circle cx="579.00" cy="343.50" r="2.7" stroke="#ff0000" stroke-width="1.5" fill="none"/>
<circle cx="584.80" cy="340.20" r="2.7" stroke="#ff0000" stroke-width="1.5" fill="none"/>
<circle cx="628.50" cy="341.20" r="2.7" stroke="#ff0000" stroke-width="1.5" fill="none"/>
<line x1="402" y1="361.5" x2="633.5" y2="227.3" stroke="#000" stroke-width="1.6"/>
</g>
<rect x="370" y="217" width="263.5" height="144.5" fill="none" stroke="#5c5c5c" stroke-width="1.3"/>
<path d="M382.6 361.5V359.0M382.6 217V219.5" stroke="#5c5c5c" stroke-width="0.8"/>
<text x="382.6" y="373.9" text-anchor="middle" font-family="Liberation Sans" font-size="10" fill="#222">−5</text>
<path d="M445.3 361.5V359.0M445.3 217V219.5" stroke="#5c5c5c" stroke-width="0.8"/>
<text x="445.3" y="373.9" text-anchor="middle" font-family="Liberation Sans" font-size="10" fill="#222">0</text>
<path d="M508 361.5V359.0M508 217V219.5" stroke="#5c5c5c" stroke-width="0.8"/>
<text x="508" y="373.9" text-anchor="middle" font-family="Liberation Sans" font-size="10" fill="#222">5</text>
<path d="M570.8 361.5V359.0M570.8 217V219.5" stroke="#5c5c5c" stroke-width="0.8"/>
<text x="570.8" y="373.9" text-anchor="middle" font-family="Liberation Sans" font-size="10" fill="#222">10</text>
<path d="M633.5 361.5V359.0M633.5 217V219.5" stroke="#5c5c5c" stroke-width="0.8"/>
<text x="633.5" y="373.9" text-anchor="middle" font-family="Liberation Sans" font-size="10" fill="#222">15</text>
<path d="M370 217H372.5M633.5 217H631.0" stroke="#5c5c5c" stroke-width="0.8"/>
<text x="368" y="220.6" text-anchor="end" font-family="Liberation Sans" font-size="10" fill="#222">15</text>
<path d="M370 253.1H372.5M633.5 253.1H631.0" stroke="#5c5c5c" stroke-width="0.8"/>
<text x="368" y="256.7" text-anchor="end" font-family="Liberation Sans" font-size="10" fill="#222">10</text>
<path d="M370 289.3H372.5M633.5 289.3H631.0" stroke="#5c5c5c" stroke-width="0.8"/>
<text x="368" y="292.90000000000003" text-anchor="end" font-family="Liberation Sans" font-size="10" fill="#222">5</text>
<path d="M370 325.4H372.5M633.5 325.4H631.0" stroke="#5c5c5c" stroke-width="0.8"/>
<text x="368" y="329.0" text-anchor="end" font-family="Liberation Sans" font-size="10" fill="#222">0</text>
<path d="M370 361.5H372.5M633.5 361.5H631.0" stroke="#5c5c5c" stroke-width="0.8"/>
<text x="368" y="365.1" text-anchor="end" font-family="Liberation Sans" font-size="10" fill="#222">−5</text>
<text x="505.15" y="208.6" text-anchor="middle" font-family="Liberation Serif" font-size="12.4" letter-spacing="0.4" fill="#333333">D) CRC vs CTR</text>
<text x="494.05" y="385.5" font-family="Liberation Serif" font-style="italic" font-size="12.3" fill="#333333">w</text>
<path d="M503.70 378.90H509.30M506.50 376.00V381.80" stroke="#333333" stroke-width="0.85" fill="none"/>
<g transform="translate(355,289.25) rotate(-90)"><text x="-8" y="0" font-family="Liberation Serif" font-style="italic" font-size="12" fill="#333333">w</text></g>
<rect x="346.9" y="281.95" width="1.1" height="4.8" fill="#6a6a6a"/>
<rect x="558.8" y="221.5" width="69.6" height="48.4" fill="#fff" stroke="#5c5c5c" stroke-width="1.2"/>
<path d="M567.30 230.10H573.50M570.40 227.00V233.20" stroke="#0000ff" stroke-width="1.25" fill="none"/>
<circle cx="570.40" cy="245.90" r="2.7" stroke="#ff0000" stroke-width="1.25" fill="none"/>
<line x1="561.8" y1="261.4" x2="578.4" y2="261.4" stroke="#000" stroke-width="1.6"/>
<text x="580.8" y="233.8" font-family="Liberation Serif" font-size="11.6" letter-spacing="0.55" fill="#333333">CANC</text>
<text x="580.8" y="249.4" font-family="Liberation Serif" font-size="11.6" letter-spacing="0.55" fill="#333333">CTR</text>
<text x="580.8" y="265.4" font-family="Liberation Serif" font-size="11.6" letter-spacing="0.25" fill="#333333">Classifier</text>
</g>
</svg></body></html>
